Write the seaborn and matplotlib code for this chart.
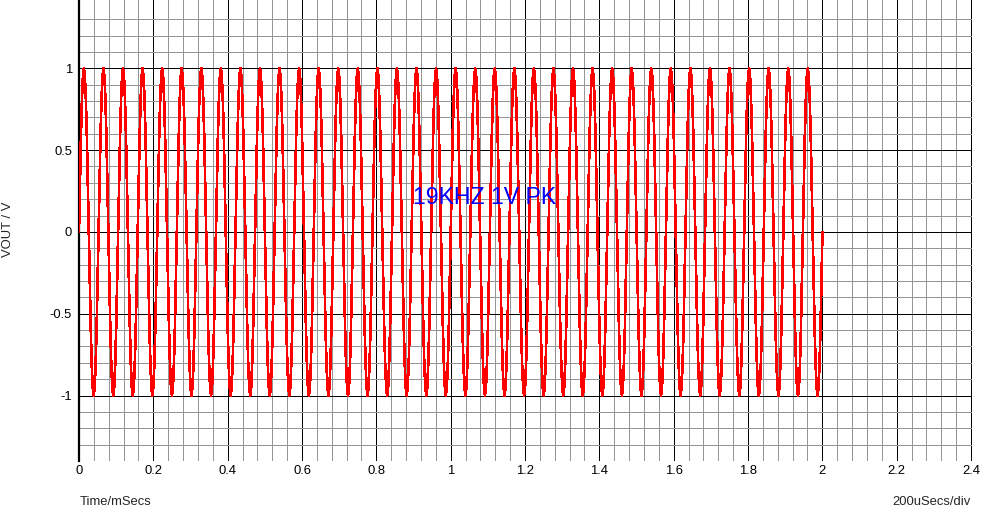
import numpy as np
import pandas as pd
import matplotlib
matplotlib.use("Agg")
import matplotlib.pyplot as plt
import seaborn as sns

# one cycle of the 19 kHz trace (volts)
ONE_CYCLE_V = [0.0, 0.31, 0.59, 0.81, 0.95, 1.0, 0.95, 0.81, 0.59, 0.31,
               0.0, -0.31, -0.59, -0.81, -0.95, -1.0, -0.95, -0.81, -0.59, -0.31]
N_CYCLES = 38
LAST_V = [0.0]
SAMPLE_STEP_MS = 0.002632

X_MAJOR = [0, 0.2, 0.4, 0.6, 0.8, 1.0, 1.2, 1.4, 1.6, 1.8, 2.0, 2.2, 2.4]
X_LABELS = ["0", "0.2", "0.4", "0.6", "0.8", "1", "1.2", "1.4", "1.6", "1.8", "2", "2.2", "2.4"]
Y_MAJOR = [-1, -0.5, 0, 0.5, 1]
Y_LABELS = ["-1", "-0.5", "0", "0.5", "1"]

volts = np.concatenate([np.tile(ONE_CYCLE_V, N_CYCLES), LAST_V])
df = pd.DataFrame({"t": np.arange(len(volts)) * SAMPLE_STEP_MS, "v": volts})

sns.set_style("white")
plt.rcParams["font.family"] = ["Liberation Sans", "DejaVu Sans"]

fig = plt.figure(figsize=(9.81, 5.09), dpi=100)
ax = fig.add_axes([79 / 981, 48 / 509, 893 / 981, 461 / 509])

sns.lineplot(data=df, x="t", y="v", color="#ff0000", linewidth=1.2,
             estimator=None, sort=False, antialiased=False, ax=ax, zorder=3)

ax.set_xlim(0, 2.4 + 1 / 371.67)
ax.set_ylim(-1.4, 1.417)
ax.set_xticks(X_MAJOR)
ax.set_xticklabels(X_LABELS)
ax.set_yticks(Y_MAJOR)
ax.set_yticklabels(Y_LABELS)
ax.set_xticks(np.round(np.arange(0, 2.401, 0.04), 2), minor=True)
ax.set_yticks(np.round(np.arange(-1.3, 1.31, 0.1), 1), minor=True)
ax.tick_params(which="both", length=0, labelsize=9.4, colors="black")
ax.tick_params(axis="x", pad=3)
ax.tick_params(axis="y", pad=5)

ax.set_axisbelow(True)
ax.grid(which="minor", color="#969696", linewidth=0.72, antialiased=False)
ax.grid(which="major", color="black", linewidth=0.72, antialiased=False)

for side in ["top", "right", "bottom"]:
    ax.spines[side].set_visible(False)
ax.spines["left"].set_color("black")
ax.spines["left"].set_linewidth(1.6)

ax.set_xlabel("")
ax.set_ylabel("")
fig.text(8 / 981, 1 - 229 / 509, "VOUT / V", rotation=90, ha="center", va="center", fontsize=9.4)
fig.text(80 / 981, 1 - 502 / 509, "Time/mSecs", ha="left", va="center", fontsize=9.4)
fig.text(971 / 981, 1 - 502 / 509, "200uSecs/div", ha="right", va="center", fontsize=9.4)

ax.text(0.898, 0.21, "19KHZ 1V PK", color="#0000ff", fontsize=16.6, ha="left", va="center", zorder=4)

fig.savefig("out.png", dpi=100)
